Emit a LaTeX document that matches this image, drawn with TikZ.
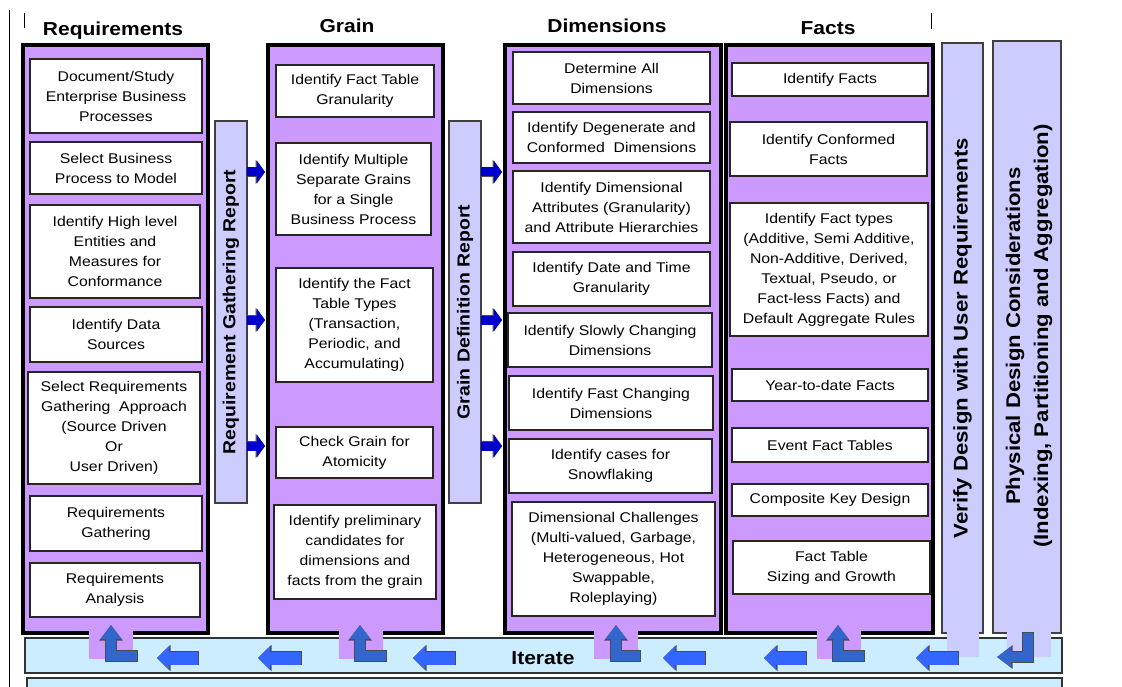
\documentclass[tikz,border=0pt]{standalone}
\usepackage{fontspec}
\setmainfont{Liberation Sans}[FakeStretch=1.12]
\usetikzlibrary{arrows.meta,calc}
\definecolor{colfill}{HTML}{CC99FF}
\definecolor{barfill}{HTML}{CCCCFF}
\definecolor{iterfill}{HTML}{CCECFF}
\definecolor{upblue}{HTML}{3366CC}
\definecolor{leftblue}{HTML}{3366FF}
\definecolor{rightblue}{HTML}{0000CC}

\begin{document}
\begin{tikzpicture}[x = 1pt, y = -1pt]
	\tikzstyle{every node} = [inner sep = 0pt, outer sep = 0pt]
	\tikzstyle{column} = [draw = black, line width = 3.5pt, fill = colfill]
	\tikzstyle{item} = [draw = black!85, line width = 1.5pt, fill = white, align = center, font = \fontsize{14.1}{20}\selectfont]
	\tikzstyle{head} = [anchor = base, font = \fontsize{18.75}{22}\selectfont\bfseries]
	\tikzstyle{bar} = [draw = black!75, line width = 1.5pt, fill = barfill]
	\tikzstyle{bartext} = [rotate = 90, align = center, font = \fontsize{17.4}{20}\selectfont\bfseries]
	\tikzstyle{rarrow} = [draw = rightblue, line width = 9pt, -{Triangle[length = 8pt, width = 22pt]},
		preaction = {draw = black!70, line width = 10.5pt, -{Triangle[length = 9.5pt, width = 24.5pt]}}]
	\tikzstyle{larrow} = [draw = leftblue, line width = 13pt, -{Triangle[length = 12pt, width = 23pt]},
		preaction = {draw = black!70, line width = 14.5pt, shorten < = -0.75pt, -{Triangle[length = 13.5pt, width = 25.5pt]}}]
	\tikzstyle{uarrow} = [draw = upblue, line width = 10pt, -{Triangle[length = 14pt, width = 20pt]},
		preaction = {draw = black!70, line width = 11.5pt, shorten < = -0.75pt, -{Triangle[length = 15.5pt, width = 22.5pt]}}]
\useasboundingbox (0,0) rectangle (1122,687);
\draw[line width = 1pt] (9,10) -- (9,687);
\draw[line width = 1pt] (24,13) -- (24,28);
\draw[line width = 1pt] (931,13) -- (931,29);

% headings
\node[head] (hr) at (113,36) {Requirements};
\node[head] (hg) at (347,33) {Grain};
\node[head] (hd) at (607,33) {Dimensions};
\node[head] (hf) at (828,35) {Facts};

% columns
\node[column, minimum width = 185pt, minimum height = 588pt] (req) at (115.5,339) {};
\node[column, minimum width = 175pt, minimum height = 588pt] (grain) at (355.5,339) {};
\node[column, minimum width = 216pt, minimum height = 588pt] (dim) at (613,339) {};
\node[column, minimum width = 207pt, minimum height = 588pt] (fact) at (829.5,339) {};

\node[item, minimum width = 172pt, minimum height = 74pt] (r1) at (116,96) {Document/Study\\Enterprise Business\\Processes};
\node[item, minimum width = 172pt, minimum height = 52pt] (r2) at (116,168) {Select Business\\Process to Model};
\node[item, minimum width = 170pt, minimum height = 93pt] (r3) at (115,251.5) {Identify High level\\Entities and\\Measures for\\Conformance};
\node[item, minimum width = 172pt, minimum height = 55pt] (r4) at (116,334.5) {Identify Data\\Sources};
\node[item, minimum width = 172pt, minimum height = 112pt] (r5) at (114,428) {Select Requirements\\Gathering\ \ Approach\\(Source Driven\\Or\\User Driven)};
\node[item, minimum width = 172pt, minimum height = 55pt] (r6) at (116,523.5) {Requirements\\Gathering};
\node[item, minimum width = 170pt, minimum height = 54pt] (r7) at (115,590) {Requirements\\Analysis};

\node[item, minimum width = 158pt, minimum height = 52pt] (g1) at (355,91) {Identify Fact Table\\Granularity};
\node[item, minimum width = 155pt, minimum height = 92pt] (g2) at (353.5,189) {Identify Multiple\\Separate Grains\\for a Single\\Business Process};
\node[item, minimum width = 157pt, minimum height = 114pt] (g3) at (354.5,325) {Identify the Fact\\Table Types\\(Transaction,\\Periodic, and\\Accumulating)};
\node[item, minimum width = 157pt, minimum height = 51pt] (g4) at (354.5,452.5) {Check Grain for\\Atomicity};
\node[item, minimum width = 162pt, minimum height = 94pt] (g5) at (355,552) {Identify preliminary\\candidates for\\dimensions and\\facts from the grain};

\node[item, minimum width = 197pt, minimum height = 52pt] (d1) at (611.5,78) {Determine All\\Dimensions};
\node[item, minimum width = 197pt, minimum height = 51pt] (d2) at (611.5,137.5) {Identify Degenerate and\\Conformed\ \ Dimensions};
\node[item, minimum width = 197pt, minimum height = 72pt] (d3) at (611.5,207) {Identify Dimensional\\Attributes (Granularity)\\and Attribute Hierarchies};
\node[item, minimum width = 197pt, minimum height = 54pt] (d4) at (611.5,279) {Identify Date and Time\\Granularity};
\node[item, minimum width = 204pt, minimum height = 54pt] (d5) at (610,340) {Identify Slowly Changing\\Dimensions};
\node[item, minimum width = 204pt, minimum height = 54pt] (d6) at (611,403) {Identify Fast Changing\\Dimensions};
\node[item, minimum width = 203pt, minimum height = 54pt] (d7) at (610.5,466) {Identify cases for\\Snowflaking};
\node[item, minimum width = 203pt, minimum height = 114pt] (d8) at (613.5,559) {Dimensional Challenges\\(Multi-valued, Garbage,\\Heterogeneous, Hot\\Swappable,\\Roleplaying)};

\node[item, minimum width = 196pt, minimum height = 33pt] (f1) at (830,79.5) {Identify Facts};
\node[item, minimum width = 197pt, minimum height = 54pt] (f2) at (828.5,149) {Identify Conformed\\Facts};
\node[item, minimum width = 198pt, minimum height = 133pt] (f3) at (829,269.5) {Identify Fact types\\(Additive, Semi Additive,\\Non-Additive, Derived,\\Textual, Pseudo, or\\Fact-less Facts) and\\Default Aggregate Rules};
\node[item, minimum width = 196pt, minimum height = 32pt] (f4) at (830,385) {Year-to-date Facts};
\node[item, minimum width = 196pt, minimum height = 34pt] (f5) at (830,445) {Event Fact Tables};
\node[item, minimum width = 196pt, minimum height = 32pt] (f6) at (830,500) {Composite Key Design};
\node[item, minimum width = 197pt, minimum height = 53pt] (f7) at (831.5,567.5) {Fact Table\\Sizing and Growth};

% report bars
\node[bar, minimum width = 32pt, minimum height = 382pt] (rep1) at (231,312) {};
\node[bartext] (rep1t) at (rep1) {Requirement Gathering Report};
\node[bar, minimum width = 32pt, minimum height = 382pt] (rep2) at (465,312) {};
\node[bartext] (rep2t) at (rep2) {Grain Definition Report};
\node[bar, minimum width = 41pt, minimum height = 590pt] (ver) at (962.5,338) {};
\node[bartext, font = \fontsize{19.8}{28}\selectfont\bfseries] (vert) at (ver) {Verify Design with User Requirements};
\node[bar, minimum width = 68pt, minimum height = 592pt] (phy) at (1027,337) {};
\node[bartext, font = \fontsize{19.8}{28}\selectfont\bfseries] (phyt) at (1029,336) {Physical Design Considerations\\(Indexing, Partitioning and Aggregation)};

\foreach \s in {140, -8, -134} {
	\draw[rarrow, shorten > = 3pt] ([yshift = \s pt]rep1.east) -- ([yshift = \s pt]rep1.east -| grain.west);
	\draw[rarrow, shorten > = 3pt] ([yshift = \s pt]rep2.east) -- ([yshift = \s pt]rep2.east -| dim.west);
}

% iterate
\node[draw = black!80, line width = 1.5pt, fill = iterfill, minimum width = 1037pt, minimum height = 35pt] (iter) at (543.5,655.5) {};
\node[draw = black!80, line width = 1.5pt, fill = iterfill, minimum width = 1035pt, minimum height = 30pt] (base) at (544.5,693) {};
\fill[colfill] (89,631) rectangle (133,659);
\fill[colfill] (339,631) rectangle (383,659);
\fill[colfill] (594,631) rectangle (638,659);
\fill[colfill] (817,631) rectangle (861,659);
\fill[barfill] (947,631) rectangle (979,657);
\fill[barfill] (1007,631) rectangle (1051,657);
\node[head] (it) at (543,664) {Iterate};

\draw[uarrow] (137,656) -| ([xshift = -4.5pt, yshift = 8pt]req.south);
\draw[uarrow] (386,656) -| ([xshift = 4.5pt, yshift = 8pt]grain.south);
\draw[uarrow] (640,656) -| ([xshift = 3pt, yshift = 8pt]dim.south);
\draw[uarrow] (864,656) -| ([xshift = 8.5pt, yshift = 8pt]fact.south);
\draw[uarrow] ([xshift = 1pt]phy.south) |- (997,657);
\foreach \a/\b in {198/157, 301/258, 455/413, 705/663, 806/764, 958/916}
	\draw[larrow] (\a,658) -- (\b,658);
\end{tikzpicture}
\end{document}
